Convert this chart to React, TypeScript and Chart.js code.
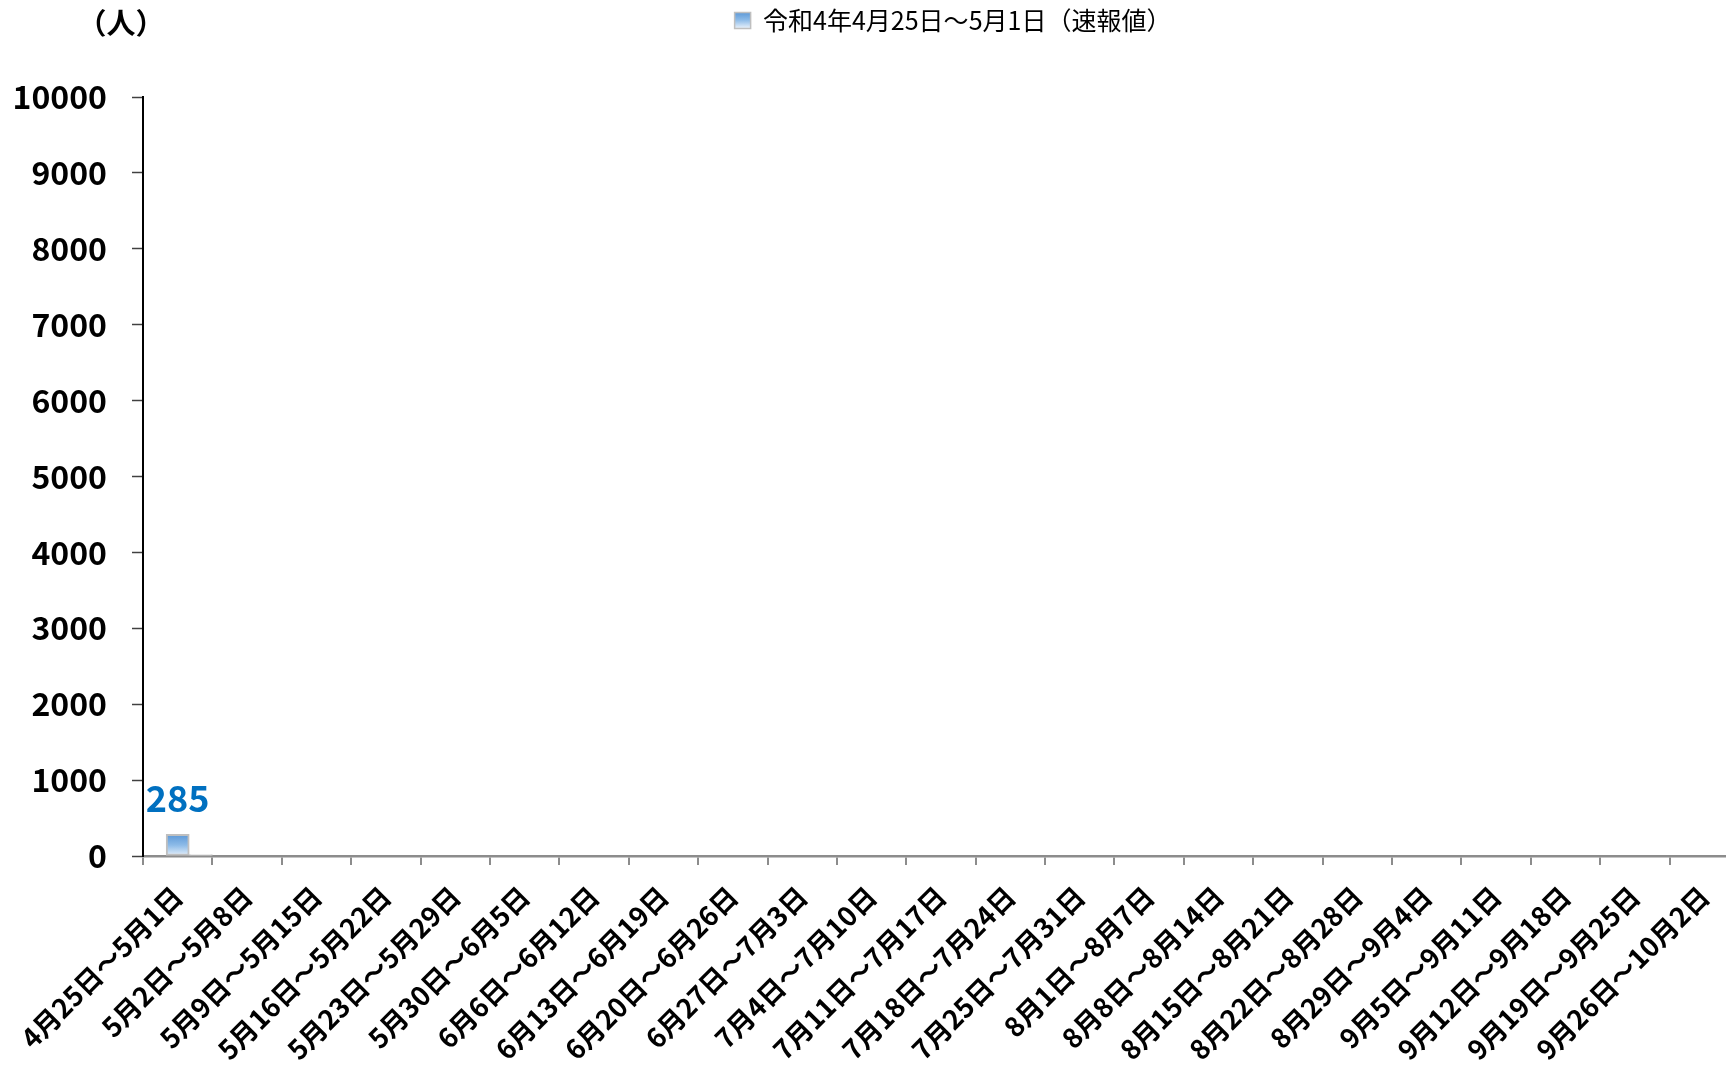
import React, { useEffect, useRef } from 'react';
import { Chart, registerables } from 'chart.js';

Chart.register(...registerables);

const categories: string[] = [
  '4月25日～5月1日',
  '5月2日～5月8日',
  '5月9日～5月15日',
  '5月16日～5月22日',
  '5月23日～5月29日',
  '5月30日～6月5日',
  '6月6日～6月12日',
  '6月13日～6月19日',
  '6月20日～6月26日',
  '6月27日～7月3日',
  '7月4日～7月10日',
  '7月11日～7月17日',
  '7月18日～7月24日',
  '7月25日～7月31日',
  '8月1日～8月7日',
  '8月8日～8月14日',
  '8月15日～8月21日',
  '8月22日～8月28日',
  '8月29日～9月4日',
  '9月5日～9月11日',
  '9月12日～9月18日',
  '9月19日～9月25日',
  '9月26日～10月2日',
];

const seriesLabel = '令和4年4月25日～5月1日（速報値）';
const emptySeries: (number | null)[] = [null, null, null, null, null, null, null, null, null, null, null, null, null, null, null, null, null, null, null, null, null, null, null];
const reiwa4Values: (number | null)[] = [285, null, null, null, null, null, null, null, null, null, null, null, null, null, null, null, null, null, null, null, null, null, null];
const otherValues: (number | null)[] = [20, null, null, null, null, null, null, null, null, null, null, null, null, null, null, null, null, null, null, null, null, null, null];

const yMin = 0;
const yMax = 10000;
const yStep = 1000;
const unitLabel = '（人）';

const JP = '"Noto Sans CJK JP", "Noto Sans", sans-serif';

export default function App() {
  const ref = useRef<HTMLCanvasElement | null>(null);

  useEffect(() => {
    if (!ref.current) return;

    const extras = {
      id: 'extras',
      beforeInit(chart: any) {
        const lg = chart.legend;
        if (lg) {
          const orig = lg.fit;
          lg.fit = function () {
            orig.call(this);
            this.height = 97;
          };
        }
      },
      afterLayout(chart: any) {
        const lg = chart.legend;
        if (lg) {
          lg.left += 12;
          lg.right += 12;
        }
      },
      afterDatasetsDraw(chart: any) {
        const ctx = chart.ctx;
        const meta = chart.getDatasetMeta(1);
        const data = chart.data.datasets[1].data;
        meta.data.forEach((el: any, i: number) => {
          const v = data[i];
          if (v == null) return;
          ctx.save();
          ctx.font = `bold 36px ${JP}`;
          ctx.fillStyle = '#0070C0';
          ctx.textAlign = 'center';
          ctx.textBaseline = 'alphabetic';
          ctx.fillText(String(v), el.x, el.y - 22);
          ctx.restore();
        });
      },
      afterDraw(chart: any) {
        const ctx = chart.ctx;
        ctx.save();
        ctx.font = `bold 29px ${JP}`;
        ctx.fillStyle = '#000';
        ctx.textAlign = 'center';
        ctx.textBaseline = 'middle';
        ctx.fillText(unitLabel, 121, 23);
        ctx.restore();
      },
    };

    const barGradient = (c: any) => {
      const chart = c.chart;
      const y = chart.scales && chart.scales.y;
      if (!y || c.raw == null) return '#5b9bd5';
      const top = y.getPixelForValue(c.raw);
      const bottom = y.getPixelForValue(0);
      if (!isFinite(top) || !isFinite(bottom) || bottom - top < 1) return '#5b9bd5';
      const g = chart.ctx.createLinearGradient(0, top, 0, bottom);
      g.addColorStop(0, '#5b97d6');
      g.addColorStop(0.5, '#8dbbe8');
      g.addColorStop(1, '#e6f0fa');
      return g;
    };

    const chart = new Chart(ref.current, {
      type: 'bar',
      data: {
        labels: categories,
        datasets: [
          {
            label: '',
            data: emptySeries,
            backgroundColor: 'rgba(0,0,0,0)',
          },
          {
            label: seriesLabel,
            data: reiwa4Values,
            backgroundColor: barGradient,
            borderColor: '#bfbfbf',
            borderWidth: 2,
            borderSkipped: false,
          },
          {
            label: '',
            data: otherValues,
            backgroundColor: '#f2f2f2',
            borderColor: '#c4c4c4',
            borderWidth: 1.5,
            borderSkipped: false,
          },
        ],
      },
      options: {
        animation: false,
        responsive: true,
        maintainAspectRatio: false,
        layout: { padding: { left: 8, right: 6, top: 0, bottom: 0 } },
        datasets: {
          bar: { categoryPercentage: 1, barPercentage: 1 },
        },
        plugins: {
          tooltip: { enabled: false },
          legend: {
            display: true,
            position: 'top',
            fullSize: false,
            labels: {
              boxWidth: 16,
              boxHeight: 16,
              padding: 8,
              color: '#000',
              font: { family: JP, size: 25 },
              generateLabels(chart: any) {
                const g = chart.ctx.createLinearGradient(0, 12, 0, 28);
                g.addColorStop(0, '#5b97d6');
                g.addColorStop(0.5, '#8dbbe8');
                g.addColorStop(1, '#e6f0fa');
                return [
                  {
                    text: seriesLabel,
                    fillStyle: g,
                    strokeStyle: '#bfbfbf',
                    lineWidth: 1.5,
                    hidden: false,
                    datasetIndex: 1,
                    fontColor: '#000',
                  },
                ];
              },
            },
          },
        },
        scales: {
          x: {
            grid: {
              display: true,
              drawOnChartArea: false,
              drawTicks: true,
              tickLength: 9,
              color: '#8c8c8c',
              lineWidth: 2,
              offset: true,
            },
            border: { display: true, color: '#8c8c8c', width: 2.5 },
            ticks: {
              autoSkip: false,
              minRotation: 45,
              maxRotation: 45,
              padding: 15,
              color: '#000',
              font: { family: JP, size: 27, weight: 'bold' },
            },
            afterFit(scale: any) {
              scale.height = 209;
            },
          },
          y: {
            min: yMin,
            max: yMax,
            grid: {
              display: true,
              drawOnChartArea: false,
              drawTicks: true,
              tickLength: 11,
              tickColor: '#404040',
              tickWidth: 1.5,
            },
            border: { display: true, color: '#000', width: 2 },
            ticks: {
              stepSize: yStep,
              padding: 25,
              color: '#000',
              font: { family: JP, size: 32, weight: 'bold' },
              callback: (v: any) => String(v),
            },
            afterFit(scale: any) {
              scale.width = 135;
            },
          },
        },
      },
      plugins: [extras],
    } as any);

    return () => {
      chart.destroy();
    };
  }, []);

  return (
    <div style={{ position: 'fixed', left: 0, top: 0, width: 1726, height: 1065, overflow: 'hidden', background: '#fff' }}>
      <div style={{ position: 'relative', width: 1745, height: 1065 }}>
        <canvas ref={ref} />
      </div>
    </div>
  );
}
